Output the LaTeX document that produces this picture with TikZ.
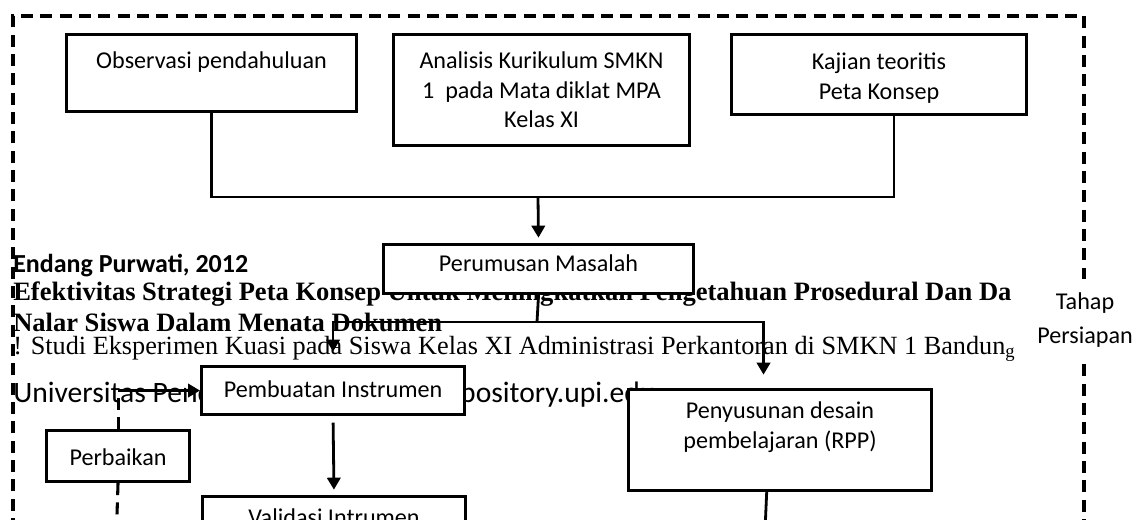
\documentclass[tikz,border=0pt]{standalone}
\usepackage{fontspec}
\setmainfont{Carlito}
\newfontfamily\headserif{Liberation Serif}
\usetikzlibrary{arrows.meta}

% box text: width, height, top padding, text
\newcommand{\boxtext}[4]{\parbox[t][#2][t]{#1}{\centering\vspace*{#3}\strut#4}}

\begin{document}
\begin{tikzpicture}[x=0.75pt, y=-0.75pt,
    every node/.style={font=\fontsize{18.1}{22}\selectfont},
    box/.style={draw, line width=2.3pt, fill=white, inner sep=0pt, anchor=north west},
    line/.style={line width=2.1pt},
    arrow/.style={line width=2.1pt, -{Triangle[length=9pt,width=10pt]}},
    frame/.style={line width=2.3pt, dash pattern=on 9pt off 5.5pt},
    head/.style={anchor=west, inner sep=0pt}]
\useasboundingbox (0,0) rectangle (1144,520);
\clip (0,0) rectangle (1144,520);

% page header text
\node[head, font=\fontsize{19.5}{22}\selectfont\bfseries] (author) at (13,266) {Endang Purwati, 2012};
\node[head, font=\headserif\fontsize{19.9}{22}\selectfont\bfseries] (title1) at (13,294)
    {Efektivitas Strategi Peta Konsep Untuk Meningkatkan Pengetahuan Prosedural Dan Da};
\node[head, font=\headserif\fontsize{19.9}{22}\selectfont\bfseries] (title2) at (13,322)
    {Nalar Siswa Dalam Menata Dokumen};
\node[head, font=\headserif\fontsize{19.7}{22}\selectfont] (subtitle) at (13,349)
    {! Studi Eksperimen Kuasi pada Siswa Kelas XI Administrasi Perkantoran di SMKN 1 Bandun\raisebox{-0.3ex}{\fontsize{14}{14}\selectfont g}};
\node[head, font=\fontsize{22.2}{24}\selectfont] (univ) at (13,394)
    {Universitas Pendidikan Indonesia | repository.upi.edu};

% dashed frame
\draw[frame] (13,530) -- (13,16) -- (1084,16) -- (1084,530);
\node[fill=white, align=center, inner xsep=4pt, inner ysep=10pt,
    font=\fontsize{18.1}{25.5}\selectfont] (tahap) at (1085,320) {Tahap\\ Persiapan};

% boxes
\node[box] (obs) at (65,33) {\boxtext{217.5pt}{57.75pt}{10.4pt}{Observasi pendahuluan}};
\node[box] (kur) at (392,33) {\boxtext{222pt}{83.25pt}{10.4pt}{Analisis Kurikulum SMKN\\ 1\ \ pada Mata diklat MPA\\ Kelas XI}};
\node[box] (kaj) at (730,33) {\boxtext{221.25pt}{60pt}{11.2pt}{Kajian teoritis\\ Peta Konsep}};
\node[box] (perum) at (382,243) {\boxtext{232.5pt}{36.75pt}{5pt}{Perumusan Masalah}};
\node[box] (pemb) at (200,365) {\boxtext{197.25pt}{36pt}{7.6pt}{Pembuatan Instrumen}};
\node[box] (perb) at (45,429) {\boxtext{107.25pt}{38.25pt}{10.6pt}{Perbaikan}};
\node[box] (peny) at (627,388) {\boxtext{227.25pt}{75.75pt}{6.6pt}{Penyusunan desain\\ pembelajaran (RPP)}};
\node[box] (val) at (201,495) {\boxtext{197.25pt}{60pt}{6pt}{Validasi Intrumen}};

% connectors
\coordinate (join) at (538,197);
\coordinate (kajout) at (894,113);
\coordinate (split) at (537,322);
\coordinate (penyend) at (765,530);
\coordinate (perbend) at (116.5,530);

\draw[line] (obs.south) |- (join) -| (kajout);
\draw[arrow, shorten >=4pt] (join) -- (perum.north);
\draw[line] (perum.south) -- (split);
\draw[arrow, shorten >=10pt] (split) -| (pemb.north);
\draw[arrow, shorten >=10pt] (split) -| ([xshift=-12.4pt]peny.north);
\draw[arrow, shorten <=5pt, shorten >=4pt] (pemb.south) -- (val.north);
\draw[line] ([xshift=-10pt]peny.south) -- (penyend);
\draw[frame] (perb.north) -- (perb.north |- pemb.west);
\draw[arrow] (perb.north |- pemb.west) -- (pemb.west);
\draw[frame] (perb.south) -- (perbend);
\end{tikzpicture}
\end{document}
